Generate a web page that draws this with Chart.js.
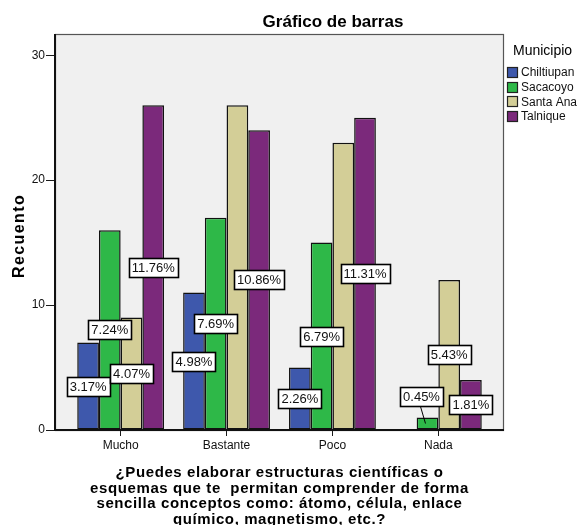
<!DOCTYPE html>
<html>
<head>
<meta charset="utf-8">
<script src="https://cdn.jsdelivr.net/npm/chart.js@4/dist/chart.umd.min.js"></script>
<style>
  html, body { margin: 0; padding: 0; background: #ffffff; }
  #wrap { width: 577px; height: 525px; position: relative; }
</style>
</head>
<body>
<div id="wrap"><canvas id="c" width="577" height="525"></canvas></div>
<script>
// Answer categories on the x axis
const categories = ['Mucho', 'Bastante', 'Poco', 'Nada'];

// Counts per municipality
const municipios = ['Chiltiupan', 'Sacacoyo', 'Santa Ana', 'Talnique'];
const chiltiupan = [7, 11, 5, 0];
const sacacoyo   = [16, 17, 15, 1];
const santaAna   = [9, 26, 23, 12];
const talnique   = [26, 24, 25, 4];

// Which percentage boxes are printed on each series
const showChiltiupan = [true, true, true, false];
const showSacacoyo   = [true, true, true, true];
const showSantaAna   = [true, false, false, true];
const showTalnique   = [true, true, true, true];

const yTicks = [0, 10, 20, 30];

const colors = ['#3e58ac', '#2eb848', '#d3ce97', '#7b297b'];
const series = [chiltiupan, sacacoyo, santaAna, talnique];
const shows = [showChiltiupan, showSacacoyo, showSantaAna, showTalnique];
const total = series.reduce((s, arr) => s + arr.reduce((a, b) => a + b, 0), 0);

const FONT = '"Liberation Sans", Arial, sans-serif';

// Per-label nudges (dataset index, category index) -> [dx, dy]; drawn with a leader line
const labelNudge = { '1-3': [-6, -27] };

const decorations = {
  id: 'decorations',
  beforeDraw(chart) {
    const { ctx, chartArea: a } = chart;
    ctx.save();
    ctx.fillStyle = '#f0f0f0';
    ctx.fillRect(a.left, a.top, a.right - a.left, a.bottom - a.top);
    ctx.restore();
  },
  afterDatasetsDraw(chart) {
    const { ctx, chartArea: a } = chart;
    ctx.save();
    // plot frame
    ctx.strokeStyle = '#555555';
    ctx.lineWidth = 1.2;
    ctx.strokeRect(a.left + 0.5, a.top + 0.5, a.right - a.left - 1, a.bottom - a.top);
    // axis lines
    ctx.strokeStyle = '#111111';
    ctx.lineWidth = 2;
    ctx.beginPath();
    ctx.moveTo(a.left, a.top); ctx.lineTo(a.left, a.bottom);
    ctx.lineTo(a.right, a.bottom);
    ctx.stroke();

    // percentage boxes
    ctx.font = '13px ' + FONT;
    ctx.textAlign = 'center';
    ctx.textBaseline = 'middle';
    chart.data.datasets.forEach((ds, di) => {
      const meta = chart.getDatasetMeta(di);
      meta.data.forEach((bar, i) => {
        if (!shows[di][i]) return;
        const pct = (series[di][i] / total * 100).toFixed(2) + '%';
        const ax = bar.x, ay = (bar.y + bar.base) / 2;
        const nudge = labelNudge[di + '-' + i] || [0, 0];
        const cx = ax + nudge[0], cy = ay + nudge[1];
        const w = Math.round(ctx.measureText(pct).width) + 6;
        const h = 19;
        const x0 = Math.round(cx - w / 2) + 0.5, y0 = Math.round(cy - h / 2) + 0.5;
        if (nudge[0] || nudge[1]) {
          ctx.strokeStyle = '#000';
          ctx.lineWidth = 1;
          ctx.beginPath();
          ctx.moveTo(ax - 2, ay);
          ctx.lineTo(cx - 1, y0 + h);
          ctx.stroke();
        }
        ctx.fillStyle = '#ffffff';
        ctx.fillRect(x0, y0, w, h);
        ctx.strokeStyle = '#000';
        ctx.lineWidth = 1.6;
        ctx.strokeRect(x0, y0, w, h);
        ctx.fillStyle = '#111';
        ctx.fillText(pct, cx, cy + 1);
      });
    });

    // title
    ctx.fillStyle = '#000';
    ctx.font = 'bold 17px ' + FONT;
    ctx.textAlign = 'center';
    ctx.textBaseline = 'alphabetic';
    ctx.fillText('Gráfico de barras', 333, 27);

    // y axis title
    ctx.save();
    ctx.translate(24, 236);
    ctx.rotate(-Math.PI / 2);
    ctx.font = 'bold 16px ' + FONT;
    ctx.letterSpacing = '1.4px';
    ctx.fillText('Recuento', 0, 0);
    ctx.restore();

    // x axis title
    ctx.font = 'bold 15px ' + FONT;
    ctx.letterSpacing = '0.6px';
    const xt = ['¿Puedes elaborar estructuras científicas o',
                'esquemas que te  permitan comprender de forma',
                'sencilla conceptos como: átomo, célula, enlace',
                'químico, magnetismo, etc.?'];
    const mid = (a.left + a.right) / 2;
    xt.forEach((t, k) => ctx.fillText(t, mid, 477 + k * 15.6));
    ctx.letterSpacing = '0px';

    // legend
    ctx.textAlign = 'left';
    ctx.font = '14px ' + FONT;
    ctx.fillText('Municipio', 513, 55);
    ctx.font = '12px ' + FONT;
    ctx.textBaseline = 'middle';
    municipios.forEach((m, k) => {
      const cy = 72 + k * 14.6;
      ctx.fillStyle = colors[k];
      ctx.fillRect(507.5, Math.round(cy - 5) + 0.5, 10, 10);
      ctx.strokeStyle = '#222';
      ctx.lineWidth = 1.2;
      ctx.strokeRect(507.5, Math.round(cy - 5) + 0.5, 10, 10);
      ctx.fillStyle = '#111';
      ctx.fillText(m, 521, cy + 1);
    });
    ctx.restore();
  }
};

new Chart(document.getElementById('c'), {
  type: 'bar',
  data: {
    labels: categories,
    datasets: municipios.map((m, k) => ({
      label: m,
      data: series[k],
      backgroundColor: colors[k],
      borderColor: '#111111',
      borderWidth: 1.5,
      borderSkipped: false
    }))
  },
  options: {
    responsive: false,
    animation: false,
    layout: { padding: { left: 0, top: 34, right: 73, bottom: 0 } },
    plugins: { legend: { display: false }, tooltip: { enabled: false }, title: { display: false } },
    datasets: { bar: { categoryPercentage: 0.82, barPercentage: 1.0 } },
    scales: {
      x: {
        type: 'category',
        offset: true,
        afterBuildTicks(scale) {
          // wider side margins than the default half-category offset
          scale._startValue = -0.62;
          scale._valueRange = categories.length - 1 + 1.24;
        },
        afterFit(scale) { scale.height = 95; },
        grid: { offset: false, drawOnChartArea: false, drawTicks: true, tickLength: 6, color: '#1a1a1a' },
        border: { display: false },
        ticks: { color: '#111', font: { family: FONT, size: 12 }, padding: 2, maxRotation: 0 }
      },
      y: {
        min: 0,
        max: 31.7,
        afterBuildTicks(scale) { scale.ticks = yTicks.map(v => ({ value: v })); },
        afterFit(scale) { scale.width = 55; },
        grid: { drawOnChartArea: false, drawTicks: true, tickLength: 9, color: '#1a1a1a' },
        border: { display: false },
        ticks: { color: '#111', font: { family: FONT, size: 12 }, padding: 1, includeBounds: false }
      }
    }
  },
  plugins: [decorations]
});
</script>
</body>
</html>
